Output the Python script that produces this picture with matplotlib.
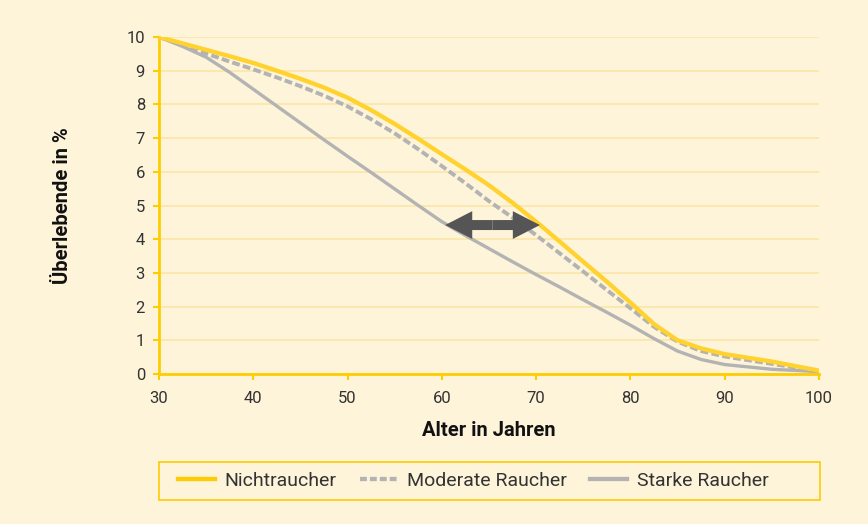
import matplotlib
matplotlib.use("Agg")
import matplotlib.pyplot as plt
from matplotlib.lines import Line2D
from matplotlib.patches import Rectangle, ArrowStyle

# ---- data ----
ages = [30, 32.5, 35, 37.5, 40, 42.5, 45, 47.5, 50, 52.5, 55, 57.5, 60, 62.5,
        65, 67.5, 70, 72.5, 75, 77.5, 80, 82.5, 85, 87.5, 90, 95, 100]
nichtraucher = [10, 9.81, 9.62, 9.43, 9.23, 9.0, 8.76, 8.5, 8.2, 7.83, 7.42, 6.98,
                6.52, 6.07, 5.6, 5.08, 4.52, 3.93, 3.33, 2.74, 2.12, 1.48, 1.0,
                0.76, 0.59, 0.37, 0.1]
moderate = [10, 9.76, 9.51, 9.27, 9.04, 8.8, 8.54, 8.26, 7.94, 7.56, 7.14, 6.67,
            6.17, 5.66, 5.13, 4.64, 4.12, 3.58, 3.04, 2.49, 1.95, 1.4, 0.96,
            0.68, 0.52, 0.3, 0.08]
starke = [10, 9.72, 9.4, 8.95, 8.45, 7.95, 7.45, 6.95, 6.46, 5.98, 5.49, 5.0,
          4.52, 4.11, 3.72, 3.33, 2.95, 2.58, 2.2, 1.83, 1.45, 1.05, 0.68,
          0.43, 0.28, 0.14, 0.07]
series_labels = ["Nichtraucher", "Moderate Raucher", "Starke Raucher"]
x_ticks = [30, 40, 50, 60, 70, 80, 90, 100]
y_ticks = list(range(0, 11))
arrow_from = 60.35
arrow_to = 70.4
arrow_y = 4.42

# ---- style ----
BG = "#FEF4DA"
YEL_AX = "#FFCC00"
YEL_LINE = "#FFD22E"
GRID = "#FCE5A6"
GRAY = "#B3B3B3"
DARK = "#555555"
TXT = "#333333"

plt.rcParams["font.family"] = ["Roboto", "DejaVu Sans"]

fig = plt.figure(figsize=(8.68, 5.24), dpi=100, facecolor=BG)
W, H = 868, 524
ax = fig.add_axes([159 / W, 150 / H, 660 / W, 337 / H])
ax.set_facecolor(BG)

ax.plot(ages, nichtraucher, color=YEL_LINE, lw=3.1, solid_joinstyle="round", zorder=4)
ax.plot(ages, moderate, color=GRAY, lw=2.8, dashes=(2.0, 0.85), zorder=3)
ax.plot(ages, starke, color=GRAY, lw=2.4, solid_joinstyle="round", zorder=2)

# double-headed arrow (two filled simple arrows from the middle)
mid = (arrow_from + arrow_to) / 2
style = ArrowStyle.Simple(head_length=19.5, head_width=20, tail_width=7.2)
for end in (arrow_from, arrow_to):
    ax.annotate("", xy=(end, arrow_y), xytext=(mid, arrow_y),
                arrowprops=dict(arrowstyle=style, mutation_scale=1, lw=0,
                                color=DARK, shrinkA=0, shrinkB=0), zorder=6)

ax.set_xlim(30, 100)
ax.set_ylim(0, 10)
ax.set_xticks(x_ticks)
ax.set_yticks(y_ticks)
ax.yaxis.grid(True, color=GRID, lw=1.2)
ax.set_axisbelow(True)
for s in ("top", "right"):
    ax.spines[s].set_visible(False)
for s in ("left", "bottom"):
    ax.spines[s].set_color(YEL_AX)
    ax.spines[s].set_linewidth(2.0)
ax.tick_params(axis="both", colors=YEL_AX, length=4, width=1.5,
               labelcolor=TXT, labelsize=12)
ax.tick_params(axis="x", pad=8)
ax.tick_params(axis="y", pad=6)

fig.text(489 / W, 1 - 431 / H, "Alter in Jahren", ha="center", va="center",
         fontsize=14.5, fontweight="bold", color="#111111")
fig.text(63 / W, 1 - 206 / H, "Überlebende in %", ha="center", va="center",
         rotation=90, fontsize=14.5, fontweight="bold", color="#111111")

# legend box
fig.patches.append(Rectangle((159 / W, 1 - 500 / H), 661 / W, 38 / H,
                             transform=fig.transFigure, facecolor="none",
                             edgecolor=YEL_AX, lw=1.2))
handles = [Line2D([], [], color=YEL_AX, lw=3.1),
           Line2D([], [], color=GRAY, lw=3.1, dashes=(1.6, 0.7)),
           Line2D([], [], color=GRAY, lw=3.1)]
leg = fig.legend(handles, series_labels, loc="center left",
                 bbox_to_anchor=(178 / W, 1 - 481 / H), ncol=3, frameon=False,
                 borderpad=0, borderaxespad=0, fontsize=14,
                 handlelength=1.9, handletextpad=0.5, columnspacing=1.2)
for t in leg.get_texts():
    t.set_color(TXT)

fig.savefig("out.png", dpi=100, facecolor=BG)
